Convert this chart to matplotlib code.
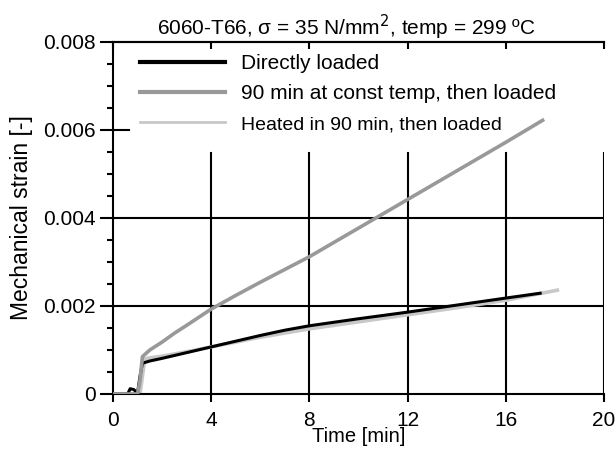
import numpy as np
import matplotlib.pyplot as plt

plt.rcParams['font.family'] = ['Liberation Sans', 'DejaVu Sans']

# Creep test curves: time [min] vs mechanical strain [-]
t_direct = [0, 0.6, 0.7, 0.85, 1.0, 1.1, 1.2, 1.5, 2, 3, 4, 5, 6, 7, 8, 10, 12, 14, 16, 17.4]
eps_direct = [0, 0, 0.00012, 0.00010, 0.00002, 0.0004, 0.00070, 0.00075, 0.00081, 0.00094,
              0.00107, 0.00120, 0.00133, 0.00145, 0.00155, 0.00171, 0.00186, 0.00202, 0.00218, 0.00229]

t_const = [0, 1.0, 1.1, 1.2, 1.5, 2, 2.5, 3, 4, 5, 6, 8, 10, 12, 14, 16, 17.5]
eps_const = [0, 0, 0.0003, 0.00085, 0.00100, 0.00118, 0.00138, 0.00156, 0.00193, 0.00224, 0.00254,
             0.00312, 0.00377, 0.00442, 0.00507, 0.00572, 0.00622]

t_heated = [0, 1.1, 1.2, 1.3, 1.6, 2, 3, 4, 6, 8, 10, 12, 14, 16, 18.1]
eps_heated = [0, 0, 0.0004, 0.00080, 0.00083, 0.00086, 0.00096, 0.00107, 0.00129, 0.00148,
              0.00164, 0.00180, 0.00196, 0.00213, 0.00236]

x_ticks = [0, 4, 8, 12, 16, 20]
y_ticks = [0, 0.002, 0.004, 0.006, 0.008]
y_ticklabels = ['0', '0.002', '0.004', '0.006', '0.008']

fig = plt.figure(figsize=(6.15, 4.49), dpi=100)
ax = fig.add_axes([0.1837, 0.1225, 0.7984, 0.784])

# grid lines stop below the legend block
legend_floor = 0.685
for x in x_ticks[1:]:
    ax.axvline(x, ymin=0, ymax=legend_floor, color='black', lw=1.5, zorder=1)
for y in [0.002, 0.004]:
    ax.axhline(y, color='black', lw=1.5, zorder=1)
ax.axhline(0.006, xmin=0, xmax=0.032, color='black', lw=1.5, zorder=1)

h1, = ax.plot(t_direct, eps_direct, color='black', lw=2.2, zorder=3, label='Directly loaded')
h3, = ax.plot(t_heated, eps_heated, color='#c8c8c8', lw=2.6, zorder=2,
              label='Heated in 90 min, then loaded')
h2, = ax.plot(t_const, eps_const, color='#999999', lw=2.6, zorder=4,
              label='90 min at const temp, then loaded')

ax.set_xlim(0, 20)
ax.set_ylim(0, 0.008)
ax.set_xticks(x_ticks)
ax.set_xticklabels([str(v) for v in x_ticks])
ax.set_yticks(y_ticks)
ax.set_yticklabels(y_ticklabels)
ax.set_yticks(np.arange(0, 0.0081, 0.0005), minor=True)

ax.spines['right'].set_visible(False)
for s in ['left', 'bottom', 'top']:
    ax.spines[s].set_linewidth(1.5)

ax.tick_params(axis='both', which='major', labelsize=15, width=1.5)
ax.tick_params(axis='x', which='major', direction='out', length=6, pad=6)
ax.tick_params(axis='y', which='major', direction='out', length=9.5, pad=3)
ax.tick_params(axis='y', which='minor', direction='out', length=4.5, width=1.5)

top = ax.secondary_xaxis('top')
top.set_xticks(x_ticks)
top.set_xticklabels([])
top.tick_params(direction='in', length=5, width=1.5)
top.spines['top'].set_linewidth(1.5)

ax.set_xlabel('Time [min]', fontsize=14.5, labelpad=-2)
ax.set_ylabel('Mechanical strain [-]', fontsize=16.5, labelpad=7)
ax.set_title('6060-T66, σ = 35 N/mm$^2$, temp = 299 ºC', fontsize=15, pad=5, x=0.476)

leg = ax.legend(handles=[h1, h2, h3], loc='upper left', bbox_to_anchor=(0.055, 0.966),
                frameon=False, fontsize=15, handlelength=4.1, handletextpad=0.75,
                borderpad=0, borderaxespad=0, labelspacing=0.55)
leg.get_texts()[2].set_fontsize(14)
for line, lw in zip(leg.get_lines(), [3, 3, 2]):
    line.set_linewidth(lw)

fig.savefig('out.png', dpi=100)
